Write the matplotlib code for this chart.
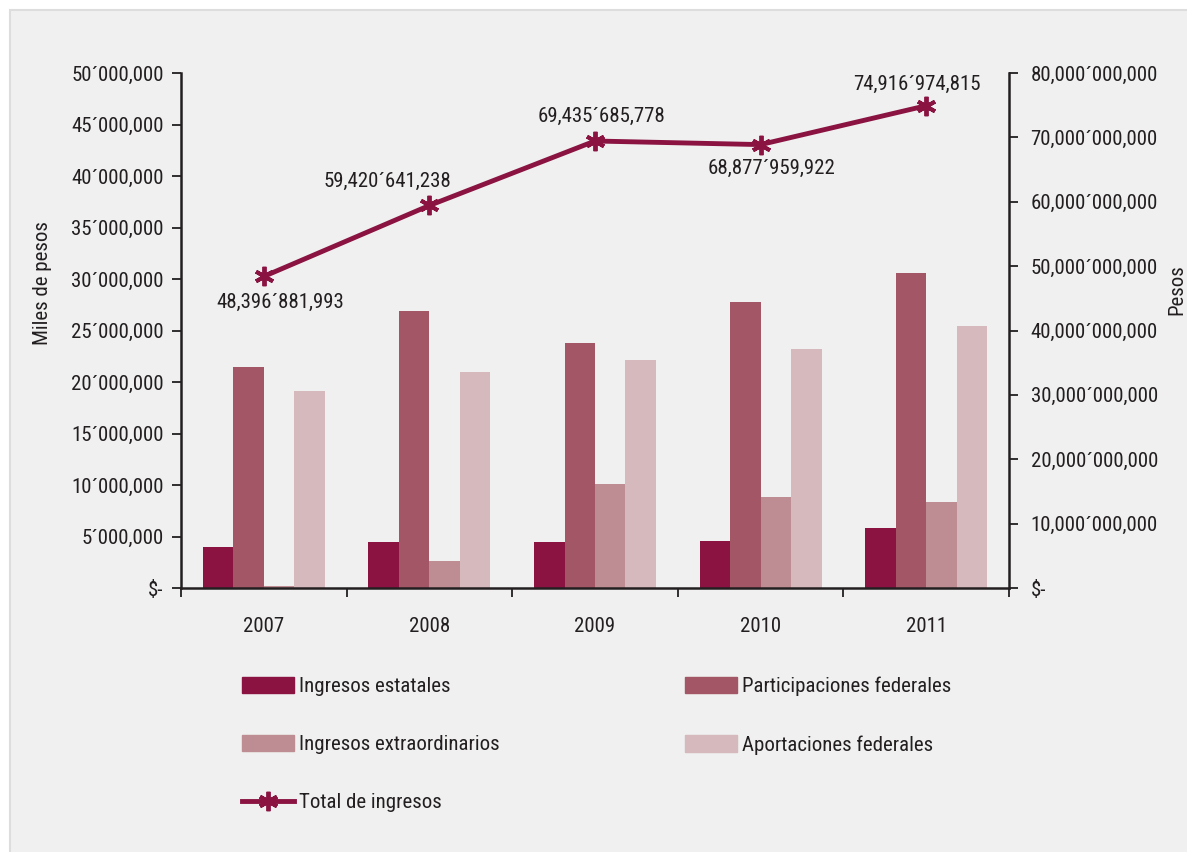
import matplotlib
matplotlib.use('Agg')
import numpy as np
import matplotlib.pyplot as plt
from matplotlib import font_manager
from matplotlib.patches import Rectangle, Patch
from matplotlib.lines import Line2D
from matplotlib.ticker import FuncFormatter, FixedLocator

# the original uses a condensed face; take a narrow one if present
installed = {f.name for f in font_manager.fontManager.ttflist}
if 'Roboto Condensed' in installed:
    face, fs = 'Roboto Condensed', 15
elif 'Liberation Sans Narrow' in installed:
    face, fs = 'Liberation Sans Narrow', 15
else:
    face, fs = 'Liberation Sans', 13
plt.rcParams['font.family'] = [face, 'DejaVu Sans']

# data (left axis in miles de pesos, line in pesos)
years = ['2007', '2008', '2009', '2010', '2011']
ingresos_estatales = [4.0e6, 4.5e6, 4.5e6, 4.55e6, 5.8e6]
participaciones_federales = [21.45e6, 26.9e6, 23.8e6, 27.8e6, 30.55e6]
ingresos_extraordinarios = [0.22e6, 2.62e6, 10.1e6, 8.8e6, 8.35e6]
aportaciones_federales = [19.1e6, 20.95e6, 22.1e6, 23.2e6, 25.4e6]
total_ingresos = [48396881993, 59420641238, 69435685778, 68877959922, 74916974815]

bar_labels = ['Ingresos estatales', 'Participaciones federales',
              'Ingresos extraordinarios', 'Aportaciones federales']
bar_colors = ['#8a1342', '#a35665', '#be8c93', '#d5b9bc']
line_color = '#8a1342'
txt = '#231f20'


def fmt(v, pos=None):
    v = int(round(v))
    if v == 0:
        return '$-'
    rest = v % 10**6
    return '{:,}\u00b4{:03d},{:03d}'.format(v // 10**6, rest // 1000, rest % 1000)


fig = plt.figure(figsize=(11.87, 8.52), dpi=100, facecolor='white')
fig.patches.append(Rectangle((10 / 1187, -0.01), 1.0, (852 - 10) / 852 + 0.01,
                             transform=fig.transFigure, facecolor='#eff0ef',
                             edgecolor='#dddddd', lw=1.5, zorder=-10))

ax = fig.add_axes([181 / 1187, (852 - 588) / 852, (1009 - 181) / 1187, (588 - 73) / 852])
ax.set_facecolor('none')

x = np.arange(len(years))
w = 0.184
series = [ingresos_estatales, participaciones_federales,
          ingresos_extraordinarios, aportaciones_federales]
for i, vals in enumerate(series):
    ax.bar(x + (i - 1.5) * w, vals, w, color=bar_colors[i], label=bar_labels[i])

ax.set_xlim(-0.5, 4.5)
ax.set_ylim(0, 50e6)
ax.set_yticks(np.arange(0, 50e6 + 1, 5e6))
ax.yaxis.set_major_formatter(FuncFormatter(fmt))
ax.set_xticks(x)
ax.set_xticklabels(years)
ax.xaxis.set_minor_locator(FixedLocator(np.arange(-0.5, 5, 1.0)))

ax2 = ax.twinx()
ax2.set_ylim(0, 80e9)
ax2.set_yticks(np.arange(0, 80e9 + 1, 10e9))
ax2.yaxis.set_major_formatter(FuncFormatter(fmt))
ax2.plot(x, total_ingresos, color=line_color, lw=3.5, marker=(6, 2, 0),
         ms=14, mew=2.8, mec=line_color, label='Total de ingresos')

for a in (ax, ax2):
    for s in a.spines.values():
        s.set_color(txt)
        s.set_linewidth(1.8)
    a.spines['top'].set_visible(False)
ax.spines['right'].set_visible(False)
ax2.spines['left'].set_visible(False)
ax2.spines['bottom'].set_visible(False)

ax.tick_params(axis='y', length=6.5, width=1.3, color=txt, labelcolor=txt, labelsize=fs, pad=6)
ax.tick_params(axis='x', which='major', length=0, labelcolor=txt, labelsize=fs, pad=21)
ax.tick_params(axis='x', which='minor', length=6.5, width=1.3, color=txt)
ax2.tick_params(axis='y', length=6.5, width=1.3, color=txt, labelcolor=txt, labelsize=fs, pad=9)

# value labels on the line, offsets in points
offsets = [(12, -19), (-30, 17), (5, 18), (8, -17), (-7, 15)]
for i, v in enumerate(total_ingresos):
    ax2.annotate(fmt(v), (x[i], v), xytext=offsets[i], textcoords='offset points',
                 ha='center', va='center', fontsize=fs, color=txt)

fig.text(42 / 1187, (852 - 283) / 852, 'Miles de pesos', rotation=90,
         ha='center', va='center', fontsize=fs, color=txt)
fig.text(1177 / 1187, (852 - 290) / 852, 'Pesos', rotation=90,
         ha='center', va='center', fontsize=fs, color=txt)

# legend in two columns
h = [Patch(color=c) for c in bar_colors]
hl = Line2D([], [], color=line_color, lw=3.5, marker=(6, 2, 0), ms=14, mew=2.8)
row_h = fs * 1.17
common = dict(loc='upper left', frameon=False, fontsize=fs, borderpad=0,
              borderaxespad=0, handlelength=37.4 / fs, handleheight=12.2 / fs,
              handletextpad=3.6 / fs, labelspacing=(45.4 - row_h) / fs,
              labelcolor=txt, numpoints=1)
y_top = (852 - 677) / 852
fig.legend([h[0], h[2], hl], [bar_labels[0], bar_labels[2], 'Total de ingresos'],
           bbox_to_anchor=(242 / 1187, y_top), **common)
fig.legend([h[1], h[3]], [bar_labels[1], bar_labels[3]],
           bbox_to_anchor=(685 / 1187, y_top), **common)

fig.savefig('out.png', dpi=100)
